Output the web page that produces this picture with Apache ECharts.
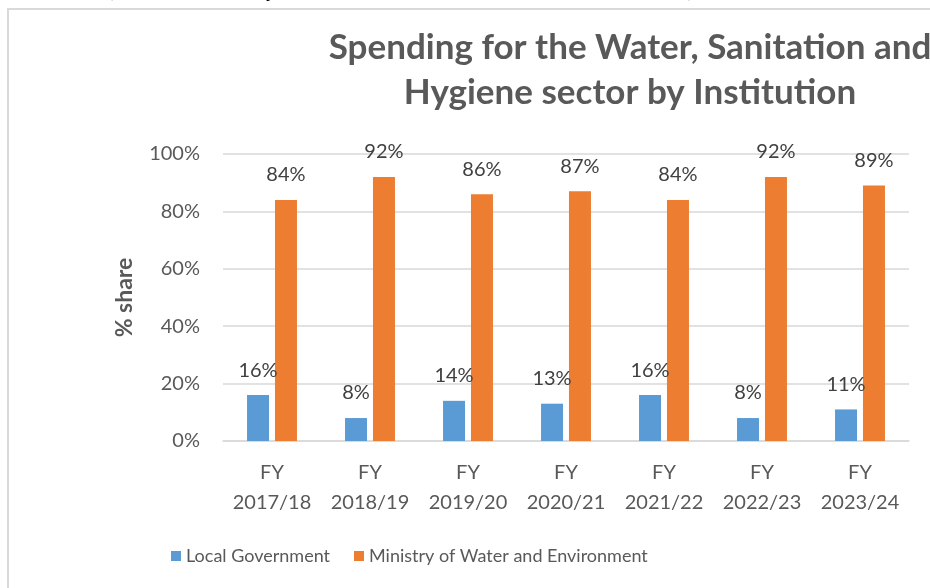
<!DOCTYPE html>
<html>
<head>
<meta charset="utf-8">
<script src="https://cdn.jsdelivr.net/npm/echarts@6/dist/echarts.min.js"></script>
<style>
  html, body { margin: 0; padding: 0; background: #fff; }
  #chart { width: 930px; height: 588px; }
</style>
</head>
<body>
<div id="chart"></div>
<script>
// Fiscal years (two-line category labels)
const categories = ['FY\n2017/18', 'FY\n2018/19', 'FY\n2019/20', 'FY\n2020/21', 'FY\n2021/22', 'FY\n2022/23', 'FY\n2023/24'];
// Share of WASH spending by institution, in percent
const localGovernment = [16, 8, 14, 13, 16, 8, 11];
const ministryWaterEnv = [84, 92, 86, 87, 84, 92, 89];
const seriesNames = ['Local Government', 'Ministry of Water and Environment'];
const yTicks = [0, 20, 40, 60, 80, 100];

const FONT = 'Lato, "Open Sans", sans-serif';
const chart = echarts.init(document.getElementById('chart'), null, { renderer: 'canvas' });

const labelStyle = {
  show: true,
  position: 'top',
  distance: 15,
  formatter: p => p.value + '%',
  color: '#404040',
  fontSize: 20,
  fontFamily: FONT
};

chart.setOption({
  animation: false,
  backgroundColor: '#ffffff',
  title: {
    text: 'Spending for the Water, Sanitation and\nHygiene sector by Institution',
    left: 625,
    top: 20,
    textAlign: 'center',
    textStyle: {
      fontFamily: FONT,
      fontSize: 35,
      fontWeight: 'bold',
      color: '#595959',
      lineHeight: 45
    }
  },
  graphic: [
    {
      type: 'rect',
      silent: true,
      shape: { x: 8, y: 9, width: 1000, height: 700 },
      style: { fill: 'none', stroke: '#d9d9d9', lineWidth: 2 }
    },
    { type: 'text', silent: true, x: 106, y: -10, style: { text: '(', font: '21px "Liberation Serif", serif', fill: '#000', verticalAlign: 'middle' } },
    { type: 'text', silent: true, x: 266, y: -10, style: { text: 'y', font: '21px "Liberation Serif", serif', fill: '#000', verticalAlign: 'middle' } },
    { type: 'text', silent: true, x: 688, y: -10, style: { text: '),', font: '21px "Liberation Serif", serif', fill: '#000', verticalAlign: 'middle' } }
  ],
  legend: {
    data: seriesNames,
    left: 166,
    top: 542,
    itemWidth: 10,
    itemHeight: 10,
    itemGap: 24,
    icon: 'rect',
    textStyle: { fontFamily: FONT, fontSize: 18, color: '#595959' }
  },
  grid: { left: 223, right: 21, top: 154, bottom: 147, containLabel: false },
  xAxis: {
    type: 'category',
    data: categories,
    axisLine: { show: true, lineStyle: { color: '#d9d9d9', width: 1.5 } },
    axisTick: { show: false },
    axisLabel: {
      interval: 0,
      color: '#595959',
      fontFamily: FONT,
      fontSize: 20,
      lineHeight: 30,
      margin: 17
    }
  },
  yAxis: {
    type: 'value',
    min: yTicks[0],
    max: yTicks[yTicks.length - 1],
    interval: 20,
    name: '% share',
    nameLocation: 'middle',
    nameGap: 87,
    nameTextStyle: { fontFamily: FONT, fontSize: 23, fontWeight: 'bold', color: '#595959' },
    axisLine: { show: false },
    axisTick: { show: false },
    axisLabel: {
      formatter: v => v + '%',
      color: '#595959',
      fontFamily: FONT,
      fontSize: 20,
      margin: 23
    },
    splitLine: { lineStyle: { color: '#d9d9d9', width: 1.5 } }
  },
  series: [
    {
      name: seriesNames[0],
      type: 'bar',
      data: localGovernment,
      barWidth: 22,
      barGap: '27%',
      itemStyle: { color: '#5B9BD5' },
      label: labelStyle
    },
    {
      name: seriesNames[1],
      type: 'bar',
      data: ministryWaterEnv,
      barWidth: 22,
      barGap: '27%',
      itemStyle: { color: '#ED7D31' },
      label: labelStyle
    }
  ]
});
</script>
</body>
</html>
